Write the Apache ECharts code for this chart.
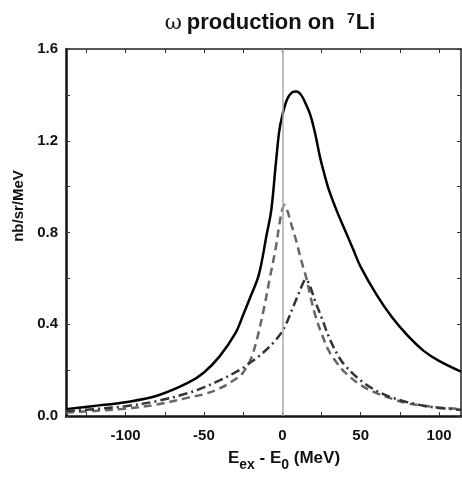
<!DOCTYPE html>
<html>
<head>
<meta charset="utf-8">
<script src="https://cdn.jsdelivr.net/npm/echarts@6/dist/echarts.min.js"></script>
<style>
  html, body { margin: 0; padding: 0; background: #fff; }
  #chart { width: 462px; height: 481px; }
</style>
</head>
<body>
<div id="chart"></div>
<script>
// values (E in MeV, cross section in nb/sr/MeV)
const solidE = [-138, -120, -100, -80, -60, -50, -40, -30, -25, -20, -15, -10, -7, -4, -2, 0, 3, 6, 9, 12, 15, 18, 21, 24, 27, 30, 35, 40, 45, 50, 60, 70, 80, 90, 100, 114];
const solidV = [0.03, 0.044, 0.06, 0.088, 0.145, 0.19, 0.26, 0.36, 0.44, 0.525, 0.615, 0.79, 0.9, 1.11, 1.24, 1.31, 1.38, 1.41, 1.415, 1.4, 1.36, 1.31, 1.23, 1.13, 1.05, 0.98, 0.89, 0.81, 0.73, 0.65, 0.53, 0.43, 0.35, 0.285, 0.24, 0.193];

const dashE = [-138, -120, -100, -80, -60, -50, -40, -30, -25, -20, -16, -12, -8, -4, -2, 0, 1.5, 3, 6, 9, 12, 15, 18, 21, 25, 30, 35, 40, 50, 60, 70, 80, 90, 100, 114];
const dashV = [0.015, 0.022, 0.032, 0.05, 0.08, 0.095, 0.12, 0.16, 0.19, 0.25, 0.34, 0.46, 0.6, 0.74, 0.83, 0.9, 0.92, 0.9, 0.83, 0.76, 0.68, 0.61, 0.52, 0.44, 0.36, 0.28, 0.23, 0.19, 0.135, 0.1, 0.075, 0.055, 0.045, 0.037, 0.03];

const dotE = [-138, -120, -100, -80, -60, -50, -40, -30, -25, -20, -15, -10, -5, -2, 0, 3, 6, 9, 12, 14, 15, 16, 18, 21, 25, 30, 35, 40, 50, 60, 70, 80, 90, 100, 114];
const dotV = [0.022, 0.03, 0.043, 0.065, 0.1, 0.125, 0.155, 0.19, 0.21, 0.235, 0.26, 0.29, 0.325, 0.35, 0.37, 0.41, 0.46, 0.51, 0.56, 0.59, 0.595, 0.59, 0.56, 0.5, 0.43, 0.34, 0.27, 0.22, 0.155, 0.11, 0.08, 0.06, 0.045, 0.035, 0.027];

const xTicks = [-125, -100, -75, -50, -25, 0, 25, 50, 75, 100];
const xLabels = [-100, -50, 0, 50, 100];
const yTicks = [0, 0.2, 0.4, 0.6, 0.8, 1.0, 1.2, 1.4, 1.6];
const yLabels = [0, 0.4, 0.8, 1.2, 1.6];

const zip = (a, b) => a.map((x, i) => [x, b[i]]);

const FONT = '"Liberation Sans", Arial, sans-serif';
const myChart = echarts.init(document.getElementById('chart'));

const baseX = {
  type: 'value',
  min: -138,
  max: 114,
  splitLine: { show: false },
  axisLine: { onZero: false, lineStyle: { color: '#111', width: 2.5 } },
  axisTick: { inside: true, length: 4, customValues: xTicks, lineStyle: { color: '#333', width: 1 } },
};
const baseY = {
  type: 'value',
  min: 0,
  max: 1.6,
  splitLine: { show: false },
  axisLine: { onZero: false, lineStyle: { color: '#111', width: 2.5 } },
  axisTick: { inside: true, length: 4, customValues: yTicks, lineStyle: { color: '#333', width: 1 } },
};

// a curve through the read points; smoothing kept moderate so peaks do not overshoot
const curve = (e, v, color, type) => ({
  type: 'line',
  data: zip(e, v),
  showSymbol: false,
  smooth: 0.35,
  lineStyle: { color: color, width: 2.5, type: type },
});

const solid = curve(solidE, solidV, '#000', 'solid');
solid.z = 3;
solid.markLine = {
  silent: true,
  symbol: 'none',
  label: { show: false },
  lineStyle: { color: '#aaa', width: 1.5, type: 'solid' },
  data: [{ xAxis: 0 }],
};

myChart.setOption({
  animation: false,
  title: {
    text: '{w|ω} {b|production on  }{s|7}{b|Li}',
    left: 265,
    top: 7,
    textAlign: 'center',
    textStyle: {
      rich: {
        w: { fontFamily: '"DejaVu Serif", "Liberation Serif", serif', fontWeight: 'normal', fontSize: 21, color: '#111', verticalAlign: 'bottom' },
        b: { fontFamily: FONT, fontWeight: 'bold', fontSize: 22, color: '#111', verticalAlign: 'bottom' },
        s: { fontFamily: FONT, fontWeight: 'bold', fontSize: 14, color: '#111', verticalAlign: 'top', padding: [0, 1, 0, 0] },
      },
    },
  },
  grid: { left: 66, right: 1, top: 49, bottom: 65 },
  xAxis: [
    Object.assign({}, baseX, {
      position: 'bottom',
      axisLabel: { customValues: xLabels, margin: 12, fontFamily: FONT, fontWeight: 'bold', fontSize: 15, color: '#111' },
    }),
    Object.assign({}, baseX, {
      position: 'top',
      axisLine: { onZero: false, lineStyle: { color: '#222', width: 1.5 } },
      axisLabel: { show: false },
    }),
  ],
  yAxis: [
    Object.assign({}, baseY, {
      position: 'left',
      axisLabel: {
        customValues: yLabels, margin: 8, fontFamily: FONT, fontWeight: 'bold', fontSize: 15, color: '#111',
        formatter: v => v.toFixed(1),
      },
    }),
    Object.assign({}, baseY, {
      position: 'right',
      axisLine: { onZero: false, lineStyle: { color: '#222', width: 1.5 } },
      axisLabel: { show: false },
    }),
  ],
  graphic: [
    {
      type: 'text',
      x: 19,
      y: 206,
      rotation: Math.PI / 2,
      style: {
        text: 'nb/sr/MeV',
        font: 'bold 15px ' + FONT,
        fill: '#111',
        align: 'center',
        verticalAlign: 'middle',
      },
    },
    {
      type: 'text',
      x: 284,
      y: 461,
      style: {
        text: '{b|E}{s|ex}{b| - E}{s|0}{b| (MeV)}',
        align: 'center',
        verticalAlign: 'middle',
        rich: {
          b: { font: 'bold 17px ' + FONT, fill: '#111', verticalAlign: 'top' },
          s: { font: 'bold 14px ' + FONT, fill: '#111', verticalAlign: 'bottom', padding: [9, 0, 0, 0] },
        },
      },
    },
  ],
  series: [
    solid,
    curve(dashE, dashV, '#666', [8, 5]),
    curve(dotE, dotV, '#333', [9, 4, 2, 4]),
  ],
});
</script>
</body>
</html>
